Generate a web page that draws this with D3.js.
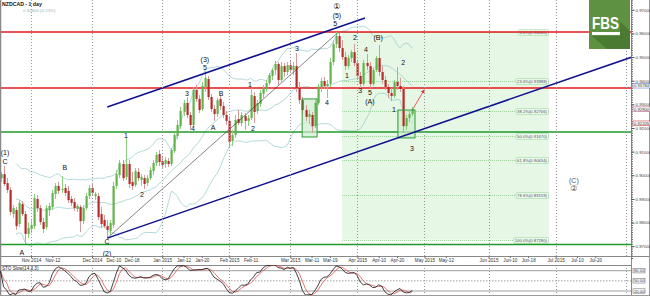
<!DOCTYPE html>
<html>
<head>
<meta charset="utf-8">
<script src="https://cdn.jsdelivr.net/npm/d3@7"></script>
<style>
body { margin: 0; background: #fff; }
svg { display: block; font-family: "Liberation Sans", Arial, sans-serif; }
</style>
</head>
<body>
<div id="chart"></div>
<script>
// NZDCAD daily, first bar 2014-10-20, weekdays only
var firstDay = new Date(2014, 9, 20);

var opens = [0.8988,0.9005,0.8967,0.8938,0.8836,0.8853,0.8794,0.8878,0.8836,0.8752,
0.8773,0.8785,0.8900,0.8861,0.8802,0.8781,0.8853,0.8866,0.8921,0.8955,
0.8938,0.8946,0.8934,0.8900,0.8887,0.8857,0.8866,0.8806,0.8861,0.8912,
0.8946,0.8912,0.8912,0.8836,0.8811,0.8785,0.8764,0.8790,0.8955,0.9001,
0.9048,0.8993,0.9048,0.8972,0.8959,0.9014,0.8980,0.8988,0.8967,0.8988,
0.9018,0.9052,0.9090,0.9060,0.9048,0.9060,0.9048,0.9103,0.9166,0.9208,
0.9268,0.9306,0.9255,0.9213,0.9361,0.9323,0.9280,0.9373,0.9407,0.9331,
0.9280,0.9259,0.9323,0.9293,0.9255,0.9230,0.9145,0.9170,0.9238,0.9221,
0.9251,0.9230,0.9242,0.9335,0.9272,0.9302,0.9344,0.9365,0.9390,0.9420,
0.9445,0.9471,0.9403,0.9462,0.9437,0.9466,0.9445,0.9462,0.9369,0.9318,
0.9276,0.9247,0.9255,0.9208,0.9306,0.9373,0.9399,0.9378,0.9386,0.9479,
0.9555,0.9589,0.9538,0.9500,0.9462,0.9496,0.9521,0.9475,0.9420,0.9386,
0.9475,0.9462,0.9386,0.9445,0.9496,0.9437,0.9403,0.9373,0.9348,0.9335,
0.9395,0.9378,0.9365,0.9208,0.9242,0.9259];

var highs = [0.9014,0.9039,0.8988,0.8950,0.8874,0.8866,0.8895,0.8891,0.8849,0.8802,
0.8815,0.8921,0.8917,0.8874,0.8819,0.8874,0.8883,0.8938,0.8967,0.8972,
0.8997,0.8963,0.8955,0.8912,0.8904,0.8878,0.8874,0.8874,0.8925,0.8959,
0.8967,0.8929,0.8925,0.8866,0.8832,0.8811,0.8811,0.8972,0.9022,0.9065,
0.9065,0.9158,0.9065,0.9014,0.9031,0.9031,0.9005,0.9001,0.9001,0.9035,
0.9065,0.9098,0.9107,0.9082,0.9077,0.9073,0.9115,0.9183,0.9234,0.9289,
0.9318,0.9331,0.9268,0.9373,0.9382,0.9340,0.9395,0.9441,0.9420,0.9344,
0.9297,0.9327,0.9340,0.9310,0.9272,0.9251,0.9192,0.9255,0.9276,0.9268,
0.9263,0.9255,0.9369,0.9352,0.9318,0.9361,0.9382,0.9403,0.9433,0.9454,
0.9483,0.9479,0.9479,0.9475,0.9479,0.9488,0.9479,0.9517,0.9395,0.9331,
0.9297,0.9276,0.9268,0.9318,0.9386,0.9412,0.9416,0.9403,0.9496,0.9572,
0.9606,0.9602,0.9572,0.9521,0.9509,0.9530,0.9555,0.9488,0.9437,0.9488,
0.9513,0.9479,0.9454,0.9505,0.9551,0.9462,0.9420,0.9386,0.9369,0.9403,
0.9458,0.9412,0.9378,0.9255,0.9272,0.9289];

var lows = [0.8972,0.8955,0.8925,0.8832,0.8819,0.8769,0.8781,0.8827,0.8709,0.8734,
0.8756,0.8773,0.8845,0.8790,0.8756,0.8769,0.8827,0.8853,0.8900,0.8921,
0.8925,0.8912,0.8883,0.8870,0.8849,0.8845,0.8760,0.8794,0.8853,0.8900,
0.8912,0.8895,0.8811,0.8777,0.8777,0.8734,0.8747,0.8777,0.8942,0.8988,
0.8976,0.8980,0.8946,0.8938,0.8950,0.8976,0.8955,0.8942,0.8955,0.8980,
0.9001,0.9039,0.9039,0.9031,0.9031,0.9035,0.9039,0.9094,0.9153,0.9196,
0.9251,0.9242,0.9192,0.9204,0.9310,0.9263,0.9272,0.9352,0.9318,0.9268,
0.9230,0.9247,0.9276,0.9242,0.9213,0.9115,0.9124,0.9158,0.9213,0.9208,
0.9192,0.9208,0.9234,0.9221,0.9259,0.9289,0.9327,0.9352,0.9382,0.9403,
0.9424,0.9382,0.9395,0.9416,0.9424,0.9433,0.9424,0.9352,0.9302,0.9259,
0.9230,0.9217,0.9179,0.9200,0.9297,0.9352,0.9365,0.9327,0.9373,0.9466,
0.9538,0.9521,0.9488,0.9445,0.9450,0.9479,0.9462,0.9403,0.9369,0.9378,
0.9445,0.9369,0.9378,0.9437,0.9420,0.9386,0.9361,0.9327,0.9314,0.9327,
0.9361,0.9352,0.9179,0.9192,0.9225,0.9251];

var closes = [0.9005,0.8963,0.8938,0.8845,0.8861,0.8785,0.8883,0.8836,0.8752,0.8777,
0.8790,0.8904,0.8861,0.8802,0.8773,0.8861,0.8870,0.8925,0.8955,0.8934,
0.8942,0.8925,0.8895,0.8883,0.8861,0.8870,0.8806,0.8861,0.8912,0.8946,
0.8925,0.8921,0.8823,0.8794,0.8785,0.8769,0.8798,0.8955,0.9005,0.9052,
0.8988,0.9048,0.8963,0.8955,0.9018,0.8988,0.8993,0.8963,0.8988,0.9022,
0.9052,0.9086,0.9056,0.9043,0.9065,0.9048,0.9107,0.9170,0.9213,0.9272,
0.9306,0.9255,0.9213,0.9361,0.9323,0.9276,0.9378,0.9412,0.9331,0.9280,
0.9259,0.9318,0.9293,0.9255,0.9230,0.9141,0.9170,0.9234,0.9221,0.9255,
0.9230,0.9242,0.9340,0.9268,0.9306,0.9348,0.9369,0.9390,0.9424,0.9445,
0.9471,0.9403,0.9462,0.9437,0.9466,0.9445,0.9462,0.9369,0.9318,0.9276,
0.9247,0.9259,0.9208,0.9306,0.9373,0.9399,0.9378,0.9386,0.9479,0.9555,
0.9589,0.9538,0.9500,0.9462,0.9496,0.9521,0.9475,0.9420,0.9386,0.9475,
0.9462,0.9386,0.9445,0.9496,0.9437,0.9403,0.9373,0.9348,0.9335,0.9395,
0.9378,0.9365,0.9208,0.9242,0.9259,0.9280];

var tickDates = ["2014-11-03","2014-11-12","2014-12-01","2014-12-10","2014-12-18","2015-01-01","2015-01-12","2015-01-20",
  "2015-02-02","2015-02-11","2015-03-02","2015-03-11","2015-03-19","2015-04-01","2015-04-10","2015-04-20",
  "2015-05-01","2015-05-12","2015-06-01","2015-06-10","2015-06-18","2015-07-01","2015-07-10","2015-07-20"];
var tickNames = ["Nov 2014","Nov-12","Dec 2014","Dec-10","Dec-18","Jan 2015","Jan-12","Jan-20",
  "Feb 2015","Feb-11","Mar 2015","Mar-11","Mar-19","Apr 2015","Apr-10","Apr-20",
  "May 2015","May-12","Jun 2015","Jun-10","Jun-18","Jul 2015","Jul-10","Jul-20"];
var gridDates = ["2014-11-03","2014-12-01","2015-01-01","2015-02-02","2015-03-02","2015-04-01","2015-05-01","2015-06-01","2015-07-01","2015-08-03"];

var priceTicks = [0.87,0.88,0.89,0.90,0.91,0.92,0.93,0.94,0.95,0.96,0.97];
var redLevels = [0.9606, 0.9369];
var greenLevels = [0.9183, 0.8707];

var fibLevels = [0, 23.6, 38.2, 50, 61.8, 78.6, 100];
var fibHigh = 0.9606, fibLow = 0.8728;
var fibSpan = [112, 179.8]; // bar index range of the zone

// annotations in bar index / price
var blueLines = [[35, 0.8734, 207, 0.9500], [35, 0.9289, 119.5, 0.9665]];
var blackLine = [35, 0.8734, 110.3, 0.9600];
var boxes = [[98.9, 103.8, 0.9323, 0.9162], [130.3, 135.9, 0.9276, 0.9158]];
var arrow = [135.2, 0.9280, 138.9, 0.9361];

var waveText = ["(1)","C","A","B","C","(2)","1","2","3","4","(3)","5","A","B","1","2","3","4","5","\u2460","(5)",
  "1","2","3","4","5","(A)","(B)","1","2","3","(C)","\u2461"];
var waveIdx = [1.5,1.5,7,21.1,34.9,34.9,41.1,46.4,61.1,63.1,67,67,69.7,72.3,81.8,82.8,97.2,107,109.7,110.3,110.3,
  113.6,116.2,117.9,119.8,121.1,121.1,123.8,129,132,134.9,188,188];
var wavePrice = [0.9098,0.9060,0.8675,0.9031,0.8718,0.8671,0.9170,0.8917,0.9348,0.9196,0.9488,0.9454,0.9204,0.9348,
  0.9386,0.9200,0.9538,0.9306,0.9644,0.9716,0.9678,0.9424,0.9581,0.9357,0.9530,0.9352,0.9310,0.9581,0.9280,0.9479,
  0.9115,0.8980,0.8942];

var stoLevels = [80, 50, 20];

var W = 650, H = 296;
var plotRight = 631, mainBottom = 256, stoTop = 265, stoBottom = 295;

// weekday calendar
var days = [];
for (var d = new Date(firstDay); days.length < 210; d = d3.timeDay.offset(d, 1)) {
  if (d.getDay() !== 0 && d.getDay() !== 6) days.push(new Date(d));
}
var fmt = d3.timeFormat("%Y-%m-%d");
var dayIndex = new Map(days.map(function(dd, i){ return [fmt(dd), i]; }));

var x = d3.scaleLinear().domain([0, 200]).range([0.5, 0.5 + 3.05 * 200]);
var y = d3.scaleLinear().domain([0.87, 0.97]).range([246.2, 9.8]);
var ys = d3.scaleLinear().domain([20, 80]).range([291, 270.7]);

var svg = d3.select("#chart").append("svg").attr("width", W).attr("height", H);
svg.append("rect").attr("width", W).attr("height", H).attr("fill", "#fff");

var defs = svg.append("defs");
defs.append("clipPath").attr("id", "mainClip").append("rect")
  .attr("x", 0).attr("y", 0).attr("width", plotRight).attr("height", mainBottom);
defs.append("clipPath").attr("id", "stoClip").append("rect")
  .attr("x", 0).attr("y", stoTop).attr("width", plotRight).attr("height", stoBottom - stoTop);

var main = svg.append("g").attr("clip-path", "url(#mainClip)");

// fibonacci zone
main.append("rect")
  .attr("x", x(fibSpan[0])).attr("y", y(fibHigh))
  .attr("width", x(fibSpan[1]) - x(fibSpan[0])).attr("height", y(fibLow) - y(fibHigh))
  .attr("fill", "#e7f7e5");

// month grid
gridDates.forEach(function(gd){
  var gx = Math.round(x(dayIndex.get(gd))) + 0.5;
  svg.append("line").attr("x1", gx).attr("x2", gx).attr("y1", 0).attr("y2", mainBottom)
    .attr("stroke", "#999").attr("stroke-dasharray", "1,2");
  svg.append("line").attr("x1", gx).attr("x2", gx).attr("y1", stoTop).attr("y2", stoBottom)
    .attr("stroke", "#999").attr("stroke-dasharray", "1,2");
});

// Bollinger bands (20, 2) from closes
var bandUp = [], bandMid = [], bandLow = [];
closes.forEach(function(c, k){
  if (k < 5) return;
  var win = closes.slice(Math.max(0, k - 19), k + 1);
  var m = d3.mean(win);
  var sd = Math.sqrt(d3.mean(win, function(v){ return (v - m) * (v - m); }));
  bandUp.push([k, m + 2 * sd]); bandMid.push([k, m]); bandLow.push([k, m - 2 * sd]);
});
var pline = d3.line().x(function(p){ return x(p[0]); }).y(function(p){ return y(p[1]); });
[bandUp, bandMid, bandLow].forEach(function(b){
  main.append("path").attr("d", pline(b)).attr("fill", "none")
    .attr("stroke", "#9fcfcf").attr("stroke-width", 0.8);
});

// fib levels
fibLevels.forEach(function(l){
  var p = fibHigh - (fibHigh - fibLow) * l / 100;
  var fy = Math.round(y(p)) + 0.5;
  main.append("line").attr("x1", x(fibSpan[0])).attr("x2", x(fibSpan[1]))
    .attr("y1", fy).attr("y2", fy)
    .attr("stroke", "#9ad49a").attr("stroke-dasharray", "1,1");
  var t = main.append("text").attr("x", x(fibSpan[1]) - 2).attr("y", fy + 1.5)
    .attr("text-anchor", "end").attr("font-size", "4.2px").attr("fill", "#444")
    .text(l.toFixed(1) + "%(" + p.toFixed(5) + ")");
  var bb = t.node().getBBox();
  main.insert("rect", function(){ return t.node(); })
    .attr("x", bb.x - 1).attr("y", bb.y - 0.3).attr("width", bb.width + 2).attr("height", bb.height + 0.6)
    .attr("rx", 1).attr("fill", "#f6fff6").attr("stroke", "#8fd08f").attr("stroke-width", 0.6);
});

// horizontal levels
redLevels.forEach(function(p){
  main.append("line").attr("x1", 0).attr("x2", plotRight).attr("y1", y(p)).attr("y2", y(p))
    .attr("stroke", "#e3191b").attr("stroke-width", 1.5);
});
greenLevels.forEach(function(p){
  main.append("line").attr("x1", 0).attr("x2", plotRight).attr("y1", y(p)).attr("y2", y(p))
    .attr("stroke", "#1f9a2a").attr("stroke-width", 1.5);
});

// boxes (fill behind candles)
boxes.forEach(function(b){
  main.append("rect").attr("x", x(b[0])).attr("y", y(b[2]))
    .attr("width", x(b[1]) - x(b[0])).attr("height", y(b[3]) - y(b[2]))
    .attr("fill", "#cfeccf").attr("fill-opacity", 0.7);
});

// candles
var candles = main.append("g");
closes.forEach(function(c, k){
  var up = c >= opens[k];
  var cx = Math.round(x(k)) + 0.5;
  candles.append("line").attr("x1", cx).attr("x2", cx).attr("y1", y(highs[k])).attr("y2", y(lows[k]))
    .attr("stroke", up ? "#8ccf7e" : "#d39a9a").attr("stroke-width", 1);
  var top = y(Math.max(c, opens[k])), bot = y(Math.min(c, opens[k]));
  candles.append("rect").attr("x", cx - 1).attr("y", top).attr("width", 2.2)
    .attr("height", Math.max(1, bot - top))
    .attr("fill", up ? "#63b34c" : "#b72b2b");
});

// box outlines on top
boxes.forEach(function(b){
  main.append("rect").attr("x", x(b[0])).attr("y", y(b[2]))
    .attr("width", x(b[1]) - x(b[0])).attr("height", y(b[3]) - y(b[2]))
    .attr("fill", "none").attr("stroke", "#2c9a35").attr("stroke-width", 1);
});

// trend lines
main.append("line")
  .attr("x1", x(blackLine[0])).attr("y1", y(blackLine[1])).attr("x2", x(blackLine[2])).attr("y2", y(blackLine[3]))
  .attr("stroke", "#333").attr("stroke-width", 0.6);
blueLines.forEach(function(b){
  main.append("line").attr("x1", x(b[0])).attr("y1", y(b[1])).attr("x2", x(b[2])).attr("y2", y(b[3]))
    .attr("stroke", "#11118f").attr("stroke-width", 1.5);
});

// arrow
defs.append("marker").attr("id", "arr").attr("viewBox", "0 0 10 10").attr("refX", 8).attr("refY", 5)
  .attr("markerWidth", 5).attr("markerHeight", 5).attr("orient", "auto")
  .append("path").attr("d", "M0,0 L10,5 L0,10 z").attr("fill", "#e33");
main.append("line").attr("x1", x(arrow[0])).attr("y1", y(arrow[1])).attr("x2", x(arrow[2])).attr("y2", y(arrow[3]))
  .attr("stroke", "#e33").attr("stroke-width", 0.8).attr("marker-end", "url(#arr)");

// wave labels
waveText.forEach(function(t, i){
  main.append("text").attr("x", x(waveIdx[i])).attr("y", y(wavePrice[i]))
    .attr("text-anchor", "middle").attr("dominant-baseline", "central")
    .attr("font-size", (t === "\u2460" || t === "\u2461") ? "8px" : "7px")
    .attr("font-family", (t === "\u2460" || t === "\u2461") ? "DejaVu Sans" : null)
    .attr("fill", (t === "\u2461" || t === "(C)") ? "#555" : "#111")
    .text(t);
});

// frames
svg.append("line").attr("x1", 0.5).attr("x2", 0.5).attr("y1", 0).attr("y2", H).attr("stroke", "#888").attr("stroke-width", 1.5);
svg.append("line").attr("x1", 0).attr("x2", W).attr("y1", mainBottom + 0.5).attr("y2", mainBottom + 0.5).attr("stroke", "#888");
svg.append("rect").attr("x", 0.5).attr("y", stoTop + 0.5).attr("width", plotRight).attr("height", stoBottom - stoTop)
  .attr("fill", "none").attr("stroke", "#888");
svg.append("line").attr("x1", plotRight + 0.5).attr("x2", plotRight + 0.5).attr("y1", 0).attr("y2", stoBottom)
  .attr("stroke", "#888");
svg.append("line").attr("x1", W - 0.5).attr("x2", W - 0.5).attr("y1", 0).attr("y2", H).attr("stroke", "#999");
svg.append("line").attr("x1", 0).attr("x2", W).attr("y1", H - 0.5).attr("y2", H - 0.5).attr("stroke", "#999");

// price axis
var minor = d3.range(0.865, 0.975, 0.001);
svg.append("g").attr("transform", "translate(" + (plotRight + 0.5) + ",0)")
  .call(d3.axisRight(y).tickValues(minor).tickSize(1.5).tickFormat(""))
  .call(function(g){ g.select(".domain").remove(); g.selectAll("line").attr("stroke", "#666"); });
var pax = svg.append("g").attr("transform", "translate(" + (plotRight + 0.5) + ",0)")
  .call(d3.axisRight(y).tickValues(priceTicks).tickSize(3).tickPadding(1).tickFormat(d3.format(".5f")));
pax.select(".domain").remove();
pax.selectAll("line").attr("stroke", "#555");
pax.selectAll("text").attr("font-size", "4.4px").attr("fill", "#444").attr("font-family", "Liberation Sans, Arial");

// last price tags
var lastK = closes.length - 1;
[[closes[lastK], "#b06080"], [bandMid[bandMid.length - 1][1], "#6a7fc0"], [bandLow[bandLow.length - 1][1], "#d04040"]]
  .forEach(function(tg){
    var ty = y(tg[0]);
    svg.append("rect").attr("x", plotRight + 2).attr("y", ty - 2.2).attr("width", 17).attr("height", 4.4)
      .attr("fill", "#fff").attr("stroke", tg[1]).attr("stroke-width", 0.6);
    svg.append("text").attr("x", plotRight + 3).attr("y", ty + 1.5).attr("font-size", "4.2px").attr("fill", "#333")
      .text(tg[0].toFixed(5));
  });

// date axis
var tickIdx = tickDates.map(function(t){ return dayIndex.get(t); });
var dax = svg.append("g").attr("transform", "translate(0," + (mainBottom + 0.5) + ")")
  .call(d3.axisBottom(x).tickValues(tickIdx).tickSize(1.5).tickPadding(1)
    .tickFormat(function(dv, i){ return tickNames[i]; }));
dax.select(".domain").remove();
dax.selectAll("line").attr("stroke", "#666");
dax.selectAll("text").attr("font-size", "4.6px").attr("fill", "#333").attr("font-family", "Liberation Sans, Arial");

// slow stochastic (14,3,3)
var num = [], den = [], stoK = [], stoD = [];
closes.forEach(function(c, k){
  var s = Math.max(0, k - 13);
  var ll = d3.min(lows.slice(s, k + 1)), hh = d3.max(highs.slice(s, k + 1));
  num.push(c - ll); den.push(hh - ll);
  var s3 = Math.max(0, k - 2);
  var kk = d3.sum(num.slice(s3, k + 1)) / d3.sum(den.slice(s3, k + 1)) * 100;
  stoK.push(kk);
  stoD.push(d3.mean(stoK.slice(s3, k + 1)));
});
var sto = svg.append("g").attr("clip-path", "url(#stoClip)");
stoLevels.forEach(function(l){
  sto.append("line").attr("x1", 0).attr("x2", plotRight).attr("y1", ys(l)).attr("y2", ys(l))
    .attr("stroke", "#888").attr("stroke-width", 0.8)
    .attr("stroke-dasharray", l === 50 ? "1.5,1.5" : null);
});
var sline = d3.line().x(function(v, k){ return x(k); }).y(function(v){ return ys(v); });
sto.append("path").attr("d", sline(stoD)).attr("fill", "none").attr("stroke", "#d9534f").attr("stroke-width", 0.8);
sto.append("path").attr("d", sline(stoK)).attr("fill", "none").attr("stroke", "#111").attr("stroke-width", 0.8);
sto.append("text").attr("x", 2).attr("y", stoTop + 5).attr("font-size", "4.6px").attr("fill", "#222")
  .text("STO Slow(14,3,3)");
stoLevels.forEach(function(l){
  var ty = ys(l);
  svg.append("rect").attr("x", plotRight + 2).attr("y", ty - 2.2).attr("width", 12).attr("height", 4.4)
    .attr("fill", "#fff").attr("stroke", "#777").attr("stroke-width", 0.6);
  svg.append("text").attr("x", plotRight + 3).attr("y", ty + 1.5).attr("font-size", "4.2px").attr("fill", "#333")
    .text(l.toFixed(2));
});

// header
svg.append("text").attr("x", 2).attr("y", 6).attr("font-size", "5.2px").attr("font-weight", "bold").attr("fill", "#111")
  .text("NZDCAD - 1 day");
svg.append("text").attr("x", 23).attr("y", 12).attr("font-size", "4.4px").attr("fill", "#8fb8b8")
  .text("0.92800 (0.23%)");

// FBS logo
var logo = svg.append("g");
logo.append("rect").attr("x", 589).attr("y", 0).attr("width", 41).attr("height", 49).attr("fill", "#5f9142");
logo.append("polygon").attr("points", "612,14 630,31 630,49 607,49 592,36 620,36 620,22").attr("fill", "#4b7a32");
logo.append("text").attr("x", 592).attr("y", 29).attr("font-size", "17px").attr("font-weight", "bold")
  .attr("fill", "#fff").attr("textLength", 27).attr("lengthAdjust", "spacingAndGlyphs").text("FBS");
logo.append("rect").attr("x", 592).attr("y", 32).attr("width", 28).attr("height", 3).attr("fill", "#fff");
</script>
</body>
</html>
